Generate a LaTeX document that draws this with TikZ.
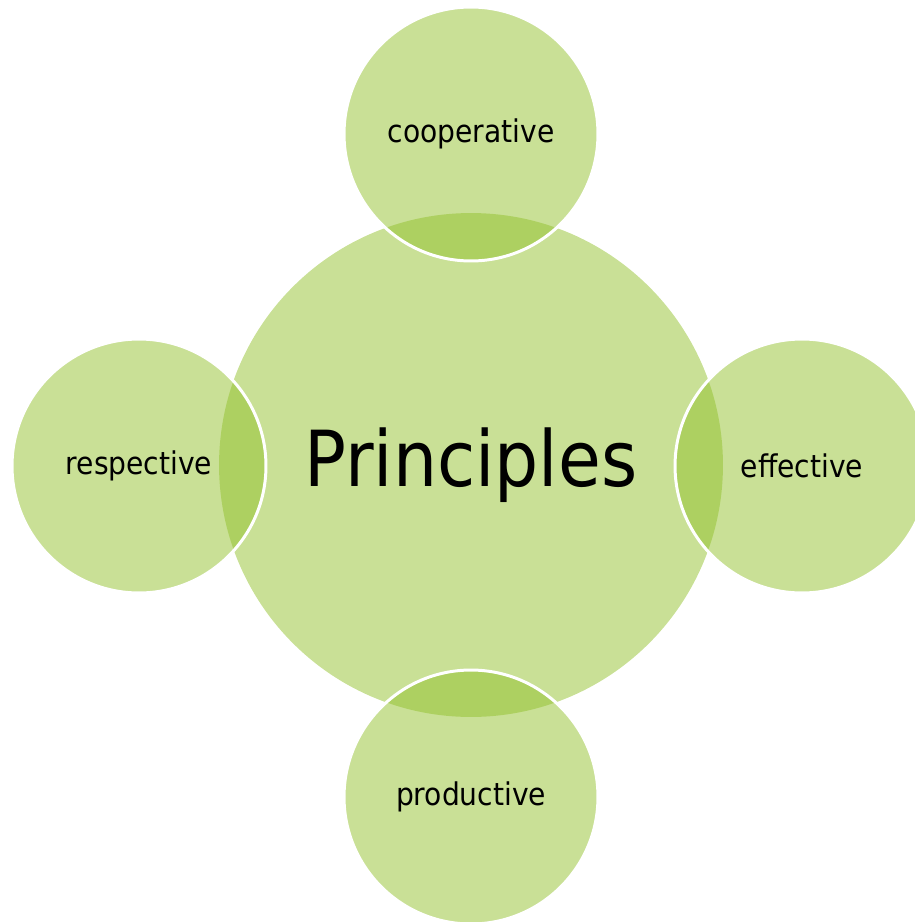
\documentclass[tikz,border=0pt]{standalone}
\usepackage{fontspec}
\setmainfont{DejaVu Sans Condensed}
\definecolor{leaf}{HTML}{93C12D}
\definecolor{pale}{HTML}{C9E096}
\begin{document}
\begin{tikzpicture}[x=0.02cm,y=-0.02cm,
    hub/.style={circle,fill=pale,inner sep=0pt,minimum size=10.08cm,
      font=\fontsize{44}{52}\selectfont},
    petal/.style={circle,fill=leaf,fill opacity=0.5,text opacity=1,
      draw=white,line width=1.7pt,inner sep=0pt,minimum size=5.08cm,
      font=\fontsize{17.8}{21}\selectfont}]
      \useasboundingbox (0,0) rectangle (915,922);%
      \clip (0,0) rectangle (915,922);%

      \node[hub] (P) at (471,465) {Principles};%

      \node[petal] (T) at (471,134) {cooperative};%
      \node[petal] (L) at (139,466) {respective};%
      \node[petal] (R) at (802,466) {effective};%
      \node[petal] (B) at (471,797) {productive};%
    \end{tikzpicture}
\end{document}
